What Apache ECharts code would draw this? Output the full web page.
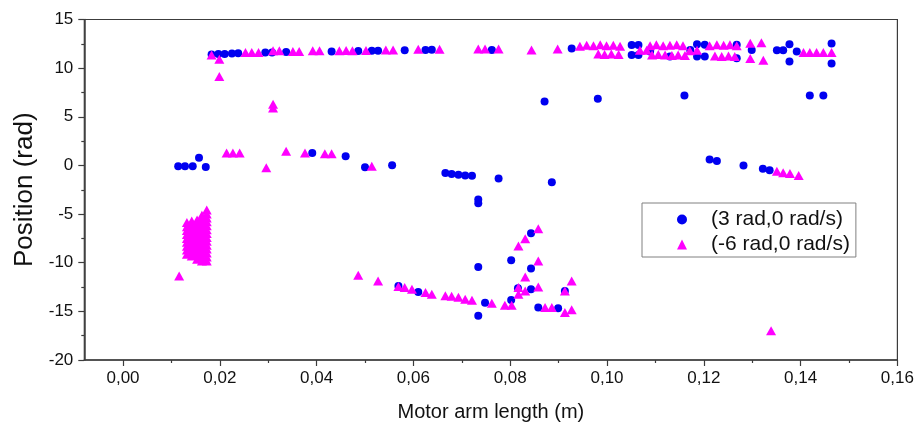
<!DOCTYPE html>
<html><head><meta charset="utf-8">
<script src="https://cdn.jsdelivr.net/npm/echarts@6/dist/echarts.min.js"></script>
<style>html,body{margin:0;padding:0;background:#fff}#c{width:920px;height:427px}</style>
</head><body><div id="c"></div>
<script>
// ---------- data ----------
const seriesNames = ['(3 rad,0 rad/s)', '(-6 rad,0 rad/s)'];
const xTickValues = [0, 0.02, 0.04, 0.06, 0.08, 0.10, 0.12, 0.14, 0.16];
const xMinorTickValues = [0.01, 0.03, 0.05, 0.07, 0.09, 0.11, 0.13, 0.15];
const yMin = -20, yMax = 15, yStep = 5;

// blue circles: (3 rad, 0 rad/s)
const blueUpperBand = [[0.0183,11.40],[0.0197,11.45],[0.0210,11.45],[0.0225,11.50],[0.0238,11.52],[0.0294,11.60],[0.0308,11.62],[0.0337,11.66],[0.0431,11.70],[0.0486,11.75],[0.0514,11.78],[0.0527,11.80],[0.0582,11.85],[0.0625,11.87],[0.0638,11.88],
  [0.0762,11.87],[0.0927,12.02],[0.1051,12.39],[0.1065,12.39],[0.1051,11.36],[0.1065,11.36],[0.1089,11.70],[0.1130,11.20],[0.1172,11.87],[0.1186,12.45],[0.1202,12.40],[0.1186,11.20],[0.1202,11.20],[0.1268,12.40],[0.1268,11.02],[0.1299,11.87],[0.1351,11.85],[0.1364,11.85],[0.1377,12.46],[0.1377,10.68],[0.1392,11.70],[0.1464,12.53],[0.1464,10.47]];
const blueMid = [[0.0871,6.58],[0.0981,6.85],[0.1160,7.19],[0.1419,7.19],[0.1447,7.19]];
const blueNearZero = [[0.0114,-0.09],[0.0128,-0.09],[0.0144,-0.09],[0.0157,0.78],[0.0171,-0.15],[0.0391,1.29],[0.0460,0.94],[0.0500,-0.19],[0.0556,0.02],[0.0666,-0.78],[0.0679,-0.87],[0.0693,-0.97],[0.0707,-1.04],[0.0721,-1.06],[0.0776,-1.35],[0.0886,-1.73],[0.0734,-3.50],[0.0734,-3.90],[0.1212,0.60],[0.1227,0.45],[0.1282,0.00],[0.1322,-0.35],[0.1336,-0.50]];
const blueLower = [[0.0569,-12.39],[0.0610,-13.00],[0.0734,-10.43],[0.0734,-15.46],[0.0748,-14.12],[0.0802,-13.82],[0.0802,-9.75],[0.0816,-12.62],[0.0843,-6.98],[0.0843,-10.60],[0.0843,-12.72],[0.0858,-14.60],[0.0899,-14.67],[0.0913,-12.90]];

// magenta triangles: (-6 rad, 0 rad/s)
const triUpperBand = [[0.0183,11.36],[0.0199,10.92],[0.0199,9.14],[0.0253,11.60],[0.0266,11.60],[0.0280,11.62],[0.0310,11.80],[0.0323,11.80],[0.0351,11.70],[0.0364,11.72],[0.0392,11.80],[0.0406,11.80],[0.0447,11.80],[0.0461,11.82],[0.0474,11.80],[0.0502,11.82],[0.0543,11.87],[0.0558,11.87],[0.0610,11.94],[0.0654,11.94],
  [0.0734,11.98],[0.0748,11.98],[0.0776,11.98],[0.0844,11.87],[0.0898,11.98]];
const triUpperRow = [[0.0944,12.25],[0.0958,12.35],[0.0972,12.30],[0.0986,12.40],[0.0999,12.30],[0.1013,12.35],[0.1027,12.25],[0.1089,12.30],[0.1102,12.40],[0.1116,12.30],[0.1130,12.35],[0.1144,12.40],[0.1157,12.30],[0.1212,12.30],[0.1227,12.40],[0.1241,12.35],[0.1254,12.40],[0.1268,12.30],[0.1296,12.55],[0.1319,12.60]];
const triLowerRow = [[0.0982,11.45],[0.0995,11.40],[0.1009,11.45],[0.1024,11.40],[0.1093,11.35],[0.1106,11.40],[0.1120,11.35],[0.1134,11.30],[0.1147,11.35],[0.1161,11.30],[0.1223,11.25],[0.1237,11.20],[0.1251,11.25],[0.1264,11.20],[0.1296,11.00],[0.1323,10.80]];
const triMidRow = [[0.1068,11.85],[0.1082,11.85],[0.1171,11.80],[0.1186,11.85],[0.1406,11.60],[0.1419,11.60],[0.1433,11.60],[0.1447,11.60],[0.1464,11.60]];
const triNearZero = [[0.0310,6.30],[0.0310,5.90],[0.0214,1.29],[0.0227,1.29],[0.0241,1.29],[0.0296,-0.25],[0.0337,1.46],[0.0376,1.29],[0.0417,1.21],[0.0431,1.21],[0.0514,-0.09],[0.1351,-0.60],[0.1364,-0.76],[0.1378,-0.83],[0.1396,-1.04]];
const triLower = [[0.0116,-11.36],[0.0486,-11.29],[0.0527,-11.87],[0.0569,-12.45],[0.0582,-12.55],[0.0597,-12.72],[0.0625,-13.06],[0.0638,-13.24],[0.0666,-13.40],[0.0679,-13.45],[0.0693,-13.55],[0.0707,-13.75],[0.0721,-13.85],[0.0762,-14.16],[0.0789,-14.36],[0.0803,-14.36],
  [0.0858,-6.50],[0.0831,-7.53],[0.0817,-8.28],[0.0858,-9.82],[0.0831,-11.46],[0.0927,-11.87],[0.0817,-12.55],[0.0831,-12.90],[0.0858,-12.49],[0.0817,-13.24],[0.0913,-12.90],[0.0872,-14.60],[0.0886,-14.60],[0.0913,-15.11],[0.0927,-14.84],[0.1339,-17.00]];
// dense block of triangles near x = 0.013-0.017
const blockColX = [0.0132, 0.0142, 0.0153, 0.0163, 0.0173];
const blockCol1Y = [-9.14,-8.7,-8.3,-7.9,-7.5,-7.1,-6.7,-6.3,-5.87];
const blockCol2Y = [-9.31,-8.9,-8.5,-8.1,-7.7,-7.3,-6.9,-6.5,-6.1,-5.7];
const blockCol3Y = [-9.65,-9.2,-8.8,-8.4,-8.0,-7.6,-7.2,-6.8,-6.4,-6.0,-5.6];
const blockCol4Y = [-9.82,-9.4,-9.0,-8.6,-8.2,-7.8,-7.4,-7.0,-6.6,-6.2,-5.8,-5.4,-5.12];
const blockCol5Y = [-9.82,-9.4,-9.0,-8.6,-8.2,-7.8,-7.4,-7.0,-6.6,-6.2,-5.8,-5.4,-5.0,-4.58];

// ---------- build ----------
const blockCols = [blockCol1Y, blockCol2Y, blockCol3Y, blockCol4Y, blockCol5Y];
const blockPts = [];
blockCols.forEach((ys, i) => ys.forEach(y => blockPts.push([blockColX[i], y])));
const blueData = [].concat(blueUpperBand, blueMid, blueNearZero, blueLower);
const triData = [].concat(blockPts, triUpperBand, triUpperRow, triLowerRow, triMidRow, triNearZero, triLower);

const FONT = '"Liberation Sans", Arial, sans-serif';
const AX = '#3c3c3c';
const fmt = v => v.toFixed(2).replace('.', ',');

const chart = echarts.init(document.getElementById('c'), null, {renderer: 'canvas'});
chart.setOption({
  animation: false,
  backgroundColor: '#fff',
  grid: {left: 84.3, right: 22.6, top: 19.5, bottom: 66, show: true, borderColor: AX, borderWidth: 1.2, containLabel: false},
  legend: {
    orient: 'vertical', left: 642, top: 203,
    data: seriesNames,
    itemWidth: 10, itemHeight: 10, itemGap: 4,
    padding: [6, 6, 2, 35],
    borderColor: '#808080', borderWidth: 1, backgroundColor: '#fff',
    textStyle: {fontFamily: FONT, fontSize: 21, color: '#111', lineHeight: 21, padding: [0, 0, 0, 19]}
  },
  xAxis: [{
    type: 'value', min: -0.008, max: 0.16,
    name: 'Motor arm length (m)', nameLocation: 'middle', nameGap: 42,
    nameTextStyle: {fontFamily: FONT, fontSize: 20, color: '#111'},
    axisLine: {show: true, onZero: false, lineStyle: {color: AX, width: 1.5}},
    axisTick: {show: true, inside: false, length: 6, customValues: xTickValues, lineStyle: {color: AX, width: 1.2}},
    axisLabel: {show: true, customValues: xTickValues, formatter: fmt, margin: 10, fontFamily: FONT, fontSize: 17, color: '#111'},
    splitLine: {show: false}
  }, {
    type: 'value', min: -0.008, max: 0.16, position: 'bottom', gridIndex: 0,
    axisLine: {show: false, onZero: false},
    axisTick: {show: true, inside: false, length: 3, customValues: xMinorTickValues, lineStyle: {color: AX, width: 1.2}},
    axisLabel: {show: false}, splitLine: {show: false}
  }],
  yAxis: {
    type: 'value', min: yMin, max: yMax, interval: yStep,
    name: 'Position (rad)', nameLocation: 'middle', nameGap: 43,
    nameTextStyle: {fontFamily: FONT, fontSize: 26, color: '#111'},
    axisLine: {show: true, onZero: false, lineStyle: {color: AX, width: 1.5}},
    axisTick: {show: true, inside: false, length: 6, lineStyle: {color: AX, width: 1.2}},
    minorTick: {show: true, splitNumber: 2, length: 3, lineStyle: {color: AX, width: 1.2}},
    axisLabel: {margin: 11, fontFamily: FONT, fontSize: 17, color: '#111'},
    splitLine: {show: false}
  },
  series: [{
    name: seriesNames[0], type: 'scatter', data: blueData,
    symbol: 'circle', symbolSize: 8,
    itemStyle: {color: '#0000f0', opacity: 1}
  }, {
    name: seriesNames[1], type: 'scatter', data: triData,
    symbol: 'triangle', symbolSize: [10, 9],
    itemStyle: {color: '#ff00ff', opacity: 1}
  }]
});
</script></body></html>
